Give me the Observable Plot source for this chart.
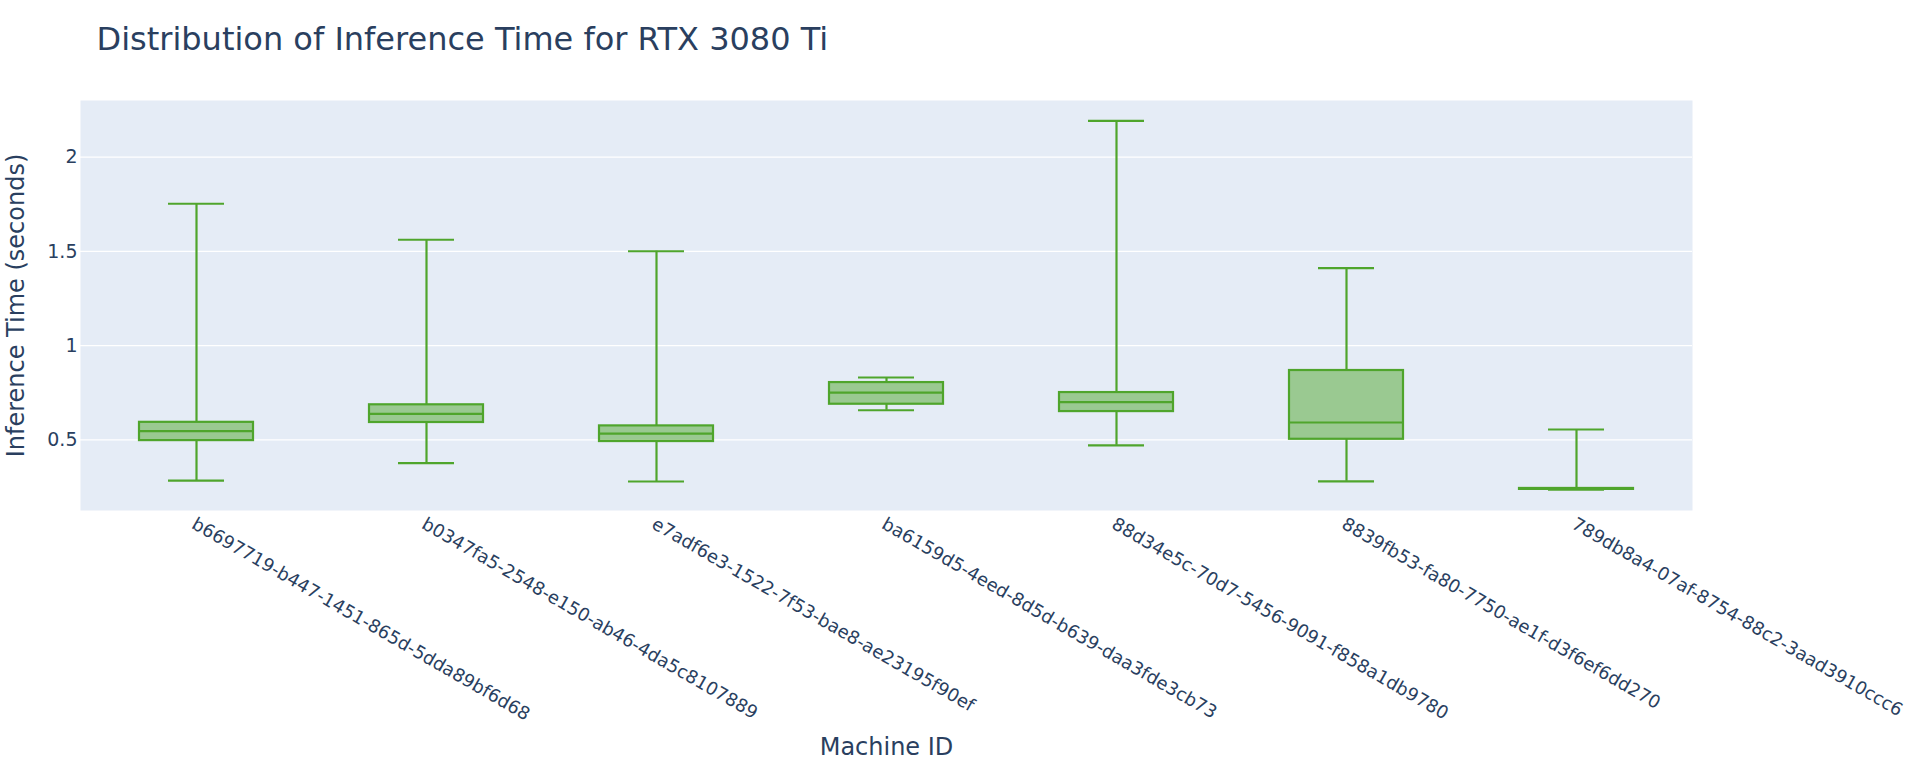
<!DOCTYPE html>
<html>
<head>
<meta charset="utf-8">
<script src="https://cdn.jsdelivr.net/npm/d3@7"></script>
<script src="https://cdn.jsdelivr.net/npm/@observablehq/plot@0.6"></script>
<style>
  html, body { margin: 0; padding: 0; background: #fff; }
  #wrap { position: relative; width: 1920px; height: 768px; }
  #title { position: absolute; left: 96.5px; top: 23px; font-family: "DejaVu Sans", sans-serif; font-size: 32px; line-height: 32px; color: #2a3f5f; white-space: nowrap; }
</style>
</head>
<body>
<div id="wrap">
  <div id="title">Distribution of Inference Time for RTX 3080 Ti</div>
  <div id="chart"></div>
</div>
<script>
const machines = [
  "b6697719-b447-1451-865d-5dda89bf6d68",
  "b0347fa5-2548-e150-ab46-4da5c8107889",
  "e7adf6e3-1522-7f53-bae8-ae23195f90ef",
  "ba6159d5-4eed-8d5d-b639-daa3fde3cb73",
  "88d34e5c-70d7-5456-9091-f858a1db9780",
  "8839fb53-fa80-7750-ae1f-d3f6ef6dd270",
  "789db8a4-07af-8754-88c2-3aad3910ccc6"
];
const lowerFence = [0.284, 0.376, 0.279, 0.657, 0.471, 0.280, 0.235];
const q1 =         [0.496, 0.592, 0.491, 0.689, 0.650, 0.503, 0.237];
const median =     [0.546, 0.638, 0.533, 0.751, 0.700, 0.592, 0.240];
const q3 =         [0.593, 0.686, 0.574, 0.804, 0.751, 0.868, 0.242];
const upperFence = [1.753, 1.562, 1.501, 0.831, 2.193, 1.411, 0.555];
const yTicks = [0.5, 1, 1.5, 2];
const yDomain = [0.125, 2.301];
const xLabel = "Machine ID";
const yLabel = "Inference Time (seconds)";

const rows = machines.map((m, i) => ({
  machine: m, low: lowerFence[i], q1: q1[i], med: median[i], q3: q3[i], high: upperFence[i]
}));

const green = "#4fa52c";
const sw = 2.2;

const chart = Plot.plot({
  width: 1920,
  height: 768,
  marginTop: 100,
  marginLeft: 80,
  marginRight: 228,
  marginBottom: 258,
  style: { fontFamily: "DejaVu Sans, sans-serif", fontSize: "18px", color: "#2a3f5f", background: "transparent" },
  x: { type: "band", domain: machines, padding: 0 },
  y: { domain: yDomain },
  marks: [
    Plot.frame({ fill: "#e5ecf6", stroke: null }),
    Plot.gridY(yTicks, { stroke: "#ffffff", strokeOpacity: 1, strokeWidth: 1.3 }),
    Plot.axisY({ ticks: yTicks, tickSize: 0, tickPadding: 3, tickFormat: d3.format("~g"), label: null, fontSize: 19 }),
    Plot.axisX({ tickSize: 0, tickPadding: 12, tickRotate: 30, label: null, fontSize: 18, dx: -3 }),
    Plot.ruleX(rows, { x: "machine", y1: "q3", y2: "high", stroke: green, strokeWidth: sw }),
    Plot.ruleX(rows, { x: "machine", y1: "low", y2: "q1", stroke: green, strokeWidth: sw }),
    Plot.tickY(rows, { x: "machine", y: "high", stroke: green, strokeWidth: sw, insetLeft: 87, insetRight: 87 }),
    Plot.tickY(rows, { x: "machine", y: "low", stroke: green, strokeWidth: sw, insetLeft: 87, insetRight: 87 }),
    Plot.barY(rows, { x: "machine", y1: "q1", y2: "q3", fill: green, fillOpacity: 0.5, stroke: green, strokeWidth: sw, insetLeft: 58, insetRight: 58 }),
    Plot.tickY(rows, { x: "machine", y: "med", stroke: green, strokeWidth: sw, insetLeft: 58, insetRight: 58 }),
    Plot.text([xLabel], { text: d => d, frameAnchor: "bottom", dy: 244.5, fontSize: 24, fill: "#2a3f5f" }),
    Plot.text([yLabel], { text: d => d, frameAnchor: "left", textAnchor: "middle", rotate: -90, dx: -64.5, fontSize: 24, fill: "#2a3f5f" })
  ]
});
document.getElementById("chart").appendChild(chart);
</script>
</body>
</html>
